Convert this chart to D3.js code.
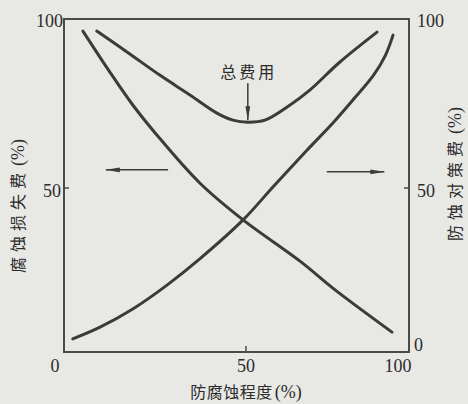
<!DOCTYPE html>
<html>
<head>
<meta charset="utf-8">
<script src="https://cdn.jsdelivr.net/npm/d3@7"></script>
<style>
  html, body { margin: 0; padding: 0; background: #e8e8e5; }
</style>
</head>
<body>
<div id="chart"></div>
<script>
// Colors
const bgColor = '#e8e8e5';
const lineColor = '#3b3b3b';
const frameColor = '#4a4a4a';
const textColor = '#2b2b2b';
const serif = '"Liberation Serif", "Times New Roman", serif';
const cjk = '"Noto Sans CJK SC", sans-serif';

// Data (x = 防腐蚀程度 %, y = %)
const lossPoints = [[5.2, 96.7], [12.6, 84.5], [18.9, 74.7], [25.5, 65.8], [37.3, 51.5],
  [49.2, 40.5], [65.1, 28.0], [74.2, 19.9], [90.1, 7.1]];
const costPoints = [[2.4, 5.1], [9.9, 8.6], [18.9, 14.0], [28.3, 21.1], [37.3, 28.9],
  [49.2, 40.5], [57.4, 50.3], [66.8, 61.3], [74.0, 69.5], [80.0, 77.0],
  [85.0, 83.5], [88.3, 89.5], [90.4, 95.5]];
const totalPoints = [[9.0, 96.7], [17.3, 90.5], [26.3, 83.6], [34.6, 77.7], [42.0, 72.3],
  [46.4, 70.2], [50.5, 69.6], [55.2, 70.2], [62.1, 74.7], [67.6, 79.2],
  [75.8, 87.5], [86.0, 96.4]];
const xTicks = [0, 50, 100];
const yTicks = [50, 100];
const rightTicks = [0, 50, 100];
const xTitle = ['防腐蚀程度', '(%)'];
const leftTitle = ['腐蚀损失费', '(%)'];
const rightTitle = ['防蚀对策费', '(%)'];
const totalLabel = '总费用';

const width = 468;
const height = 404;
const frame = { left: 64, top: 19, right: 409, bottom: 352 };

const x = d3.scaleLinear().domain([0, 100]).range([64, 428]);
const y = d3.scaleLinear().domain([0, 100]).range([356, 20]);

const svg = d3.select('#chart').append('svg')
  .attr('width', width)
  .attr('height', height)
  .style('display', 'block')
  .style('background', bgColor);

const defs = svg.append('defs');
defs.append('marker')
  .attr('id', 'head')
  .attr('viewBox', '0 0 14 6')
  .attr('refX', 14)
  .attr('refY', 3)
  .attr('markerWidth', 14)
  .attr('markerHeight', 6)
  .attr('markerUnits', 'userSpaceOnUse')
  .attr('orient', 'auto')
  .append('path')
  .attr('d', 'M0,0.6 L14,3 L0,5.4 Z')
  .attr('fill', lineColor);

// frame
svg.append('rect')
  .attr('x', frame.left)
  .attr('y', frame.top)
  .attr('width', frame.right - frame.left)
  .attr('height', frame.bottom - frame.top)
  .attr('fill', 'none')
  .attr('stroke', frameColor)
  .attr('stroke-width', 2);

// inward ticks
svg.append('g')
  .selectAll('line')
  .data(xTicks.filter(d => d === 50))
  .join('line')
  .attr('x1', d => x(d)).attr('x2', d => x(d))
  .attr('y1', frame.bottom).attr('y2', frame.bottom - 6)
  .attr('stroke', frameColor).attr('stroke-width', 1.5);

svg.append('g')
  .selectAll('line')
  .data(yTicks.filter(d => d === 50))
  .join('line')
  .attr('x1', frame.left).attr('x2', frame.left + 5)
  .attr('y1', d => y(d)).attr('y2', d => y(d))
  .attr('stroke', frameColor).attr('stroke-width', 1.5);

svg.append('g')
  .selectAll('line')
  .data(rightTicks.filter(d => d === 50))
  .join('line')
  .attr('x1', frame.right).attr('x2', frame.right - 5)
  .attr('y1', d => y(d)).attr('y2', d => y(d))
  .attr('stroke', frameColor).attr('stroke-width', 1.5);

// tick labels
svg.append('g')
  .attr('fill', textColor)
  .attr('font-family', serif)
  .attr('font-size', 18)
  .attr('text-anchor', 'middle')
  .selectAll('text')
  .data(xTicks)
  .join('text')
  .attr('x', d => d === 0 ? frame.left - 9 : d === 100 ? frame.right - 11 : x(d))
  .attr('y', 372)
  .text(d => d);

svg.append('g')
  .attr('fill', textColor)
  .attr('font-family', serif)
  .attr('font-size', 18)
  .attr('text-anchor', 'end')
  .selectAll('text')
  .data(yTicks)
  .join('text')
  .attr('x', d => d === 50 ? frame.left - 3 : frame.left - 1)
  .attr('y', d => d === 100 ? 27 : y(d) + 9)
  .text(d => d);

svg.append('g')
  .attr('fill', textColor)
  .attr('font-family', serif)
  .attr('font-size', 18)
  .attr('text-anchor', 'start')
  .selectAll('text')
  .data(rightTicks)
  .join('text')
  .attr('x', d => d === 0 ? frame.right + 5 : frame.right + 8)
  .attr('y', d => d === 100 ? 27 : d === 0 ? frame.bottom - 1 : y(d) + 9)
  .text(d => d);

// curves
const line = d3.line()
  .x(d => x(d[0]))
  .y(d => y(d[1]))
  .curve(d3.curveCatmullRom.alpha(0.5));

svg.append('g')
  .attr('fill', 'none')
  .attr('stroke', lineColor)
  .attr('stroke-width', 3)
  .attr('stroke-linecap', 'round')
  .selectAll('path')
  .data([lossPoints, costPoints, totalPoints])
  .join('path')
  .attr('d', line);

// total cost label + arrow to minimum
const minTotal = totalPoints.reduce((a, b) => b[1] < a[1] ? b : a);
svg.append('text')
  .attr('x', x(minTotal[0]) + 1)
  .attr('y', y(minTotal[1]) - 44)
  .attr('text-anchor', 'middle')
  .attr('font-family', cjk)
  .attr('font-size', 16)
  .attr('letter-spacing', 3)
  .attr('fill', textColor)
  .text(totalLabel);

svg.append('line')
  .attr('x1', x(minTotal[0])).attr('x2', x(minTotal[0]))
  .attr('y1', y(minTotal[1]) - 39)
  .attr('y2', y(minTotal[1]) - 2)
  .attr('stroke', lineColor)
  .attr('stroke-width', 1.5)
  .attr('marker-end', 'url(#head)');

// direction arrows
const arrows = [
  { from: [28.6, 55.4], to: [11.5, 55.4] },
  { from: [72.2, 54.8], to: [88.0, 54.8] }
];
svg.append('g')
  .selectAll('line')
  .data(arrows)
  .join('line')
  .attr('x1', d => x(d.from[0])).attr('y1', d => y(d.from[1]))
  .attr('x2', d => x(d.to[0])).attr('y2', d => y(d.to[1]))
  .attr('stroke', lineColor)
  .attr('stroke-width', 1.5)
  .attr('marker-end', 'url(#head)');

// axis titles: CJK part + serif "(%)"
function title(sel, parts, spacing) {
  sel.attr('text-anchor', 'middle')
    .attr('fill', textColor);
  sel.append('tspan')
    .attr('font-family', cjk)
    .attr('font-size', 16)
    .attr('letter-spacing', spacing)
    .text(parts[0]);
  sel.append('tspan')
    .attr('font-family', serif)
    .attr('font-size', 18)
    .attr('dx', spacing ? 2 : 1)
    .text(parts[1]);
}

svg.append('text')
  .attr('x', 246)
  .attr('y', 398)
  .call(title, xTitle, 0.5);

svg.append('text')
  .attr('transform', 'translate(24,206) rotate(-90)')
  .call(title, leftTitle, 5);

svg.append('text')
  .attr('transform', 'translate(461,174) rotate(-90)')
  .call(title, rightTitle, 5);
</script>
</body>
</html>
